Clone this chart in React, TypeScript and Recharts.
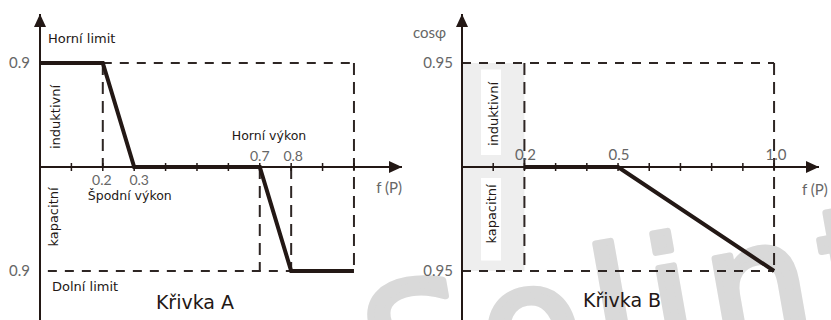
import React from 'react';
import {
  LineChart,
  Line,
  XAxis,
  YAxis,
  ReferenceLine,
  ReferenceArea,
  ReferenceDot,
} from 'recharts';

// Křivka A: f(P) vs. power factor (1 = 0.9 induktivní, 0 = cosφ 1, -1 = 0.9 kapacitní)
const pA = [0, 0.2, 0.3, 0.7, 0.8, 1.0];
const qA = [1, 1, 0, 0, -1, -1];
// Křivka B: 1 = 0.95 induktivní, -1 = 0.95 kapacitní
const pB = [0.2, 0.5, 1.0];
const qB = [0, 0, -1];
const tickP = [0.1, 0.2, 0.3, 0.4, 0.5, 0.6, 0.7, 0.8, 0.9, 1.0];

const curveA = pA.map((p, i) => ({ p, q: qA[i] }));
const curveB = pB.map((p, i) => ({ p, q: qB[i] }));

const INK = '#231815';
const DASH = '#2e2624';
const GREY = '#666666';
const Y_DOMAIN: [number, number] = [-1.471, 1.471];

const tickMark = (props: any) => (
  <line x1={props.cx} x2={props.cx} y1={props.cy - 4} y2={props.cy + 4} stroke={INK} strokeWidth={1.5} />
);
const arrowRight = (props: any) => (
  <polygon points={`${props.cx},${props.cy} ${props.cx - 13},${props.cy - 6} ${props.cx - 13},${props.cy + 6}`} fill={INK} />
);
const arrowUp = (props: any) => (
  <polygon points={`${props.cx},${props.cy} ${props.cx - 6},${props.cy + 13} ${props.cx + 6},${props.cy + 13}`} fill={INK} />
);

type LabelOpts = {
  dx?: number;
  dy?: number;
  anchor?: 'start' | 'middle' | 'end';
  size?: number;
  rotate?: boolean;
  num?: boolean;
};

const label = (text: string, o: LabelOpts = {}) => (props: any) => {
  const x = props.cx + (o.dx || 0);
  const y = props.cy + (o.dy || 0);
  return (
    <text
      x={x}
      y={y}
      textAnchor={o.anchor || 'start'}
      fontSize={o.size || 13}
      fill={o.num ? GREY : INK}
      fontFamily={o.num ? 'Lato, sans-serif' : '"DejaVu Sans", sans-serif'}
      transform={o.rotate ? `rotate(-90, ${x}, ${y})` : undefined}
    >
      {text}
    </text>
  );
};

const dashH = '9 8';
const dashV = '12 7';

const Guide = (a: number, b: number, c: number, d: number, dash: string) => (
  <ReferenceLine
    segment={[{ x: a, y: b }, { x: c, y: d }]}
    stroke={DASH}
    strokeWidth={2}
    strokeDasharray={dash}
    ifOverflow="visible"
  />
);

const ChartA = () => (
  <LineChart width={416} height={320} margin={{ top: 14, right: 14, bottom: 0, left: 40 }} style={{ overflow: 'visible' }}>
    <XAxis type="number" dataKey="p" domain={[0, 1.153]} allowDataOverflow hide />
    <YAxis type="number" dataKey="q" domain={Y_DOMAIN} allowDataOverflow hide />
    {Guide(0.2, 1, 1, 1, dashH)}
    {Guide(1, 1, 1, -1, dashV)}
    {Guide(0.025, -1, 1, -1, dashH)}
    {Guide(0.2, 1, 0.2, 0, dashV)}
    {Guide(0.7, 0, 0.7, -1, dashV)}
    {Guide(0.8, 0, 0.8, -1, dashV)}
    <ReferenceLine x={0} stroke={INK} strokeWidth={2} />
    <ReferenceLine y={0} stroke={INK} strokeWidth={2} />
    <Line data={curveA} dataKey="q" type="linear" stroke={INK} strokeWidth={4} dot={false} isAnimationActive={false} />
    {tickP.map((t) => (
      <ReferenceDot key={t} x={t} y={0} shape={tickMark} />
    ))}
    <ReferenceDot x={1.153} y={0} shape={arrowRight} />
    <ReferenceDot x={0} y={Y_DOMAIN[1]} shape={arrowUp} />
    <ReferenceDot x={0} y={1} shape={label('Horní limit', { dx: 8, dy: -20 })} />
    <ReferenceDot x={0} y={1} shape={label('0.9', { dx: -10, dy: 5, anchor: 'end', size: 15, num: true })} />
    <ReferenceDot x={0} y={-1} shape={label('0.9', { dx: -10, dy: 5, anchor: 'end', size: 15, num: true })} />
    <ReferenceDot x={0} y={0} shape={label('induktivní', { dx: 20, dy: -50, anchor: 'middle', rotate: true })} />
    <ReferenceDot x={0} y={0} shape={label('kapacitní', { dx: 18, dy: 50, anchor: 'middle', rotate: true })} />
    <ReferenceDot x={0} y={-1} shape={label('Dolní limit', { dx: 12, dy: 20 })} />
    <ReferenceDot x={0.5} y={-1} shape={label('Křivka A', { dx: -2, dy: 38, anchor: 'middle', size: 19 })} />
    <ReferenceDot x={0.2} y={0} shape={label('0.2', { dx: -1, dy: 18, anchor: 'middle', size: 14, num: true })} />
    <ReferenceDot x={0.3} y={0} shape={label('0.3', { dx: 5, dy: 18, anchor: 'middle', size: 14, num: true })} />
    <ReferenceDot x={0.2} y={0} shape={label('Špodní výkon', { dx: -15, dy: 33, size: 12.5 })} />
    <ReferenceDot x={0.7} y={0} shape={label('Horní výkon', { dx: -28, dy: -27, size: 12.5 })} />
    <ReferenceDot x={0.7} y={0} shape={label('0.7', { dy: -6, anchor: 'middle', size: 14, num: true })} />
    <ReferenceDot x={0.8} y={0} shape={label('0.8', { dx: 2, dy: -6, anchor: 'middle', size: 14, num: true })} />
    <ReferenceDot x={1.153} y={0} shape={label('f (P)', { dy: 26, anchor: 'end', size: 15, num: true })} />
  </LineChart>
);

const ChartB = () => (
  <LineChart width={431} height={320} margin={{ top: 14, right: 12, bottom: 0, left: 62 }} style={{ overflow: 'visible' }}>
    <XAxis type="number" dataKey="p" domain={[0, 1.144]} allowDataOverflow hide />
    <YAxis type="number" dataKey="q" domain={Y_DOMAIN} allowDataOverflow hide />
    <ReferenceArea x1={0} x2={0.2} y1={-1} y2={1} fill="#eeeeee" fillOpacity={1} stroke="none" />
    <ReferenceArea x1={0.061} x2={0.125} y1={0.116} y2={0.937} fill="#ffffff" fillOpacity={1} stroke="none" />
    <ReferenceArea x1={0.061} x2={0.125} y1={-0.899} y2={-0.106} fill="#ffffff" fillOpacity={1} stroke="none" />
    {Guide(0, 1, 1, 1, dashH)}
    {Guide(1, 1, 1, -1, dashV)}
    {Guide(0, -1, 1, -1, dashH)}
    {Guide(0.2, 1, 0.2, -1, dashV)}
    <ReferenceLine x={0} stroke={INK} strokeWidth={2} />
    <ReferenceLine y={0} stroke={INK} strokeWidth={2} />
    <Line data={curveB} dataKey="q" type="linear" stroke={INK} strokeWidth={4} dot={false} isAnimationActive={false} />
    {tickP.map((t) => (
      <ReferenceDot key={t} x={t} y={0} shape={tickMark} />
    ))}
    <ReferenceDot x={1.144} y={0} shape={arrowRight} />
    <ReferenceDot x={0} y={Y_DOMAIN[1]} shape={arrowUp} />
    <ReferenceDot x={0} y={1} shape={label('cosφ', { dx: -16, dy: -25, anchor: 'end', size: 15, num: true })} />
    <ReferenceDot x={0} y={1} shape={label('0.95', { dx: -9, dy: 5, anchor: 'end', size: 15, num: true })} />
    <ReferenceDot x={0} y={-1} shape={label('0.95', { dx: -9, dy: 5, anchor: 'end', size: 15, num: true })} />
    <ReferenceDot x={0.2} y={0} shape={label('0.2', { dx: 1, dy: -7, anchor: 'middle', size: 15, num: true })} />
    <ReferenceDot x={0.5} y={0} shape={label('0.5', { dx: 1, dy: -7, anchor: 'middle', size: 15, num: true })} />
    <ReferenceDot x={1.0} y={0} shape={label('1.0', { dx: 2, dy: -7, anchor: 'middle', size: 15, num: true })} />
    <ReferenceDot x={1.144} y={0} shape={label('f (P)', { dx: -17, dy: 28, size: 15, num: true })} />
    <ReferenceDot x={0} y={0} shape={label('induktivní', { dx: 36, dy: -53, anchor: 'middle', rotate: true })} />
    <ReferenceDot x={0} y={0} shape={label('kapacitní', { dx: 34, dy: 47, anchor: 'middle', rotate: true })} />
    <ReferenceDot x={0.5} y={-1} shape={label('Křivka B', { dx: 4, dy: 36, anchor: 'middle', size: 19 })} />
  </LineChart>
);

export default function App() {
  return (
    <div style={{ position: 'relative', width: 831, height: 320, overflow: 'hidden', background: '#fff' }}>
      <style>{'body{margin:0}'}</style>
      <svg width={831} height={320} style={{ position: 'absolute', left: 0, top: 0 }}>
        <text
          x={376}
          y={410}
          fontSize={165}
          fontFamily='"DejaVu Sans", sans-serif'
          letterSpacing={12}
          fill="#d9d9d9"
          stroke="#d9d9d9"
          strokeWidth={7}
          strokeLinejoin="round"
          transform="rotate(-10, 376, 410)"
        >
          Solinteg
        </text>
      </svg>
      <div style={{ position: 'absolute', left: 0, top: 0 }}>
        <ChartA />
      </div>
      <div style={{ position: 'absolute', left: 400, top: 0 }}>
        <ChartB />
      </div>
    </div>
  );
}
